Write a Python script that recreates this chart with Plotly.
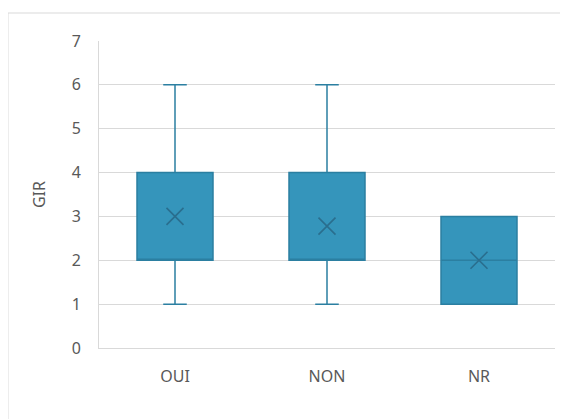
import plotly.graph_objects as go

categories = ["OUI", "NON", "NR"]
q1 = [2, 2, 1]
median = [2, 2, 2]
q3 = [4, 4, 3]
lower = [1, 1, 1]
upper = [6, 6, 3]
means = [3.0, 2.78, 2.0]
y_ticks = [0, 1, 2, 3, 4, 5, 6, 7]

fill = "#3595bb"
edge = "#2b7fa1"

fig = go.Figure()
fig.add_trace(go.Box(
    x=categories, q1=q1, median=median, q3=q3,
    lowerfence=lower, upperfence=upper,
    fillcolor=fill, line=dict(color=edge, width=1.5),
    width=0.5, whiskerwidth=0.31, boxpoints=False,
    hoverinfo="skip", showlegend=False,
))
fig.add_trace(go.Scatter(
    x=categories, y=means, mode="markers",
    marker=dict(symbol="x-thin-open", size=17, color="#2a6e8e",
                line=dict(color="#2a6e8e", width=1.6)),
    showlegend=False, hoverinfo="skip",
))

fig.update_layout(
    width=560, height=411,
    margin=dict(l=91, r=13, t=33, b=71),
    paper_bgcolor="white", plot_bgcolor="white",
    font=dict(family="Noto Sans, Liberation Sans, sans-serif", size=16, color="#595959"),
    xaxis=dict(type="category", range=[-0.5, 2.5], showgrid=False, showline=True,
               linecolor="#d9d9d9", linewidth=1, ticks="", ticklabelstandoff=14,
               tickfont=dict(size=16, color="#595959")),
    yaxis=dict(range=[0, 7], tickvals=y_ticks, showgrid=True, gridcolor="#d9d9d9",
               gridwidth=1, zeroline=False, showline=True, linecolor="#d9d9d9",
               ticks="", ticklabelstandoff=14, tickfont=dict(size=16, color="#595959"),
               title=dict(text="GIR", font=dict(size=16, color="#595959"), standoff=22)),
    shapes=[dict(type="rect", xref="paper", yref="paper", x0=-0.1996, x1=1.1,
                 y0=-0.4, y1=1.0912, line=dict(color="#d9d9d9", width=1),
                 fillcolor="rgba(0,0,0,0)", layer="below")],
)

fig.write_html("out.html")
